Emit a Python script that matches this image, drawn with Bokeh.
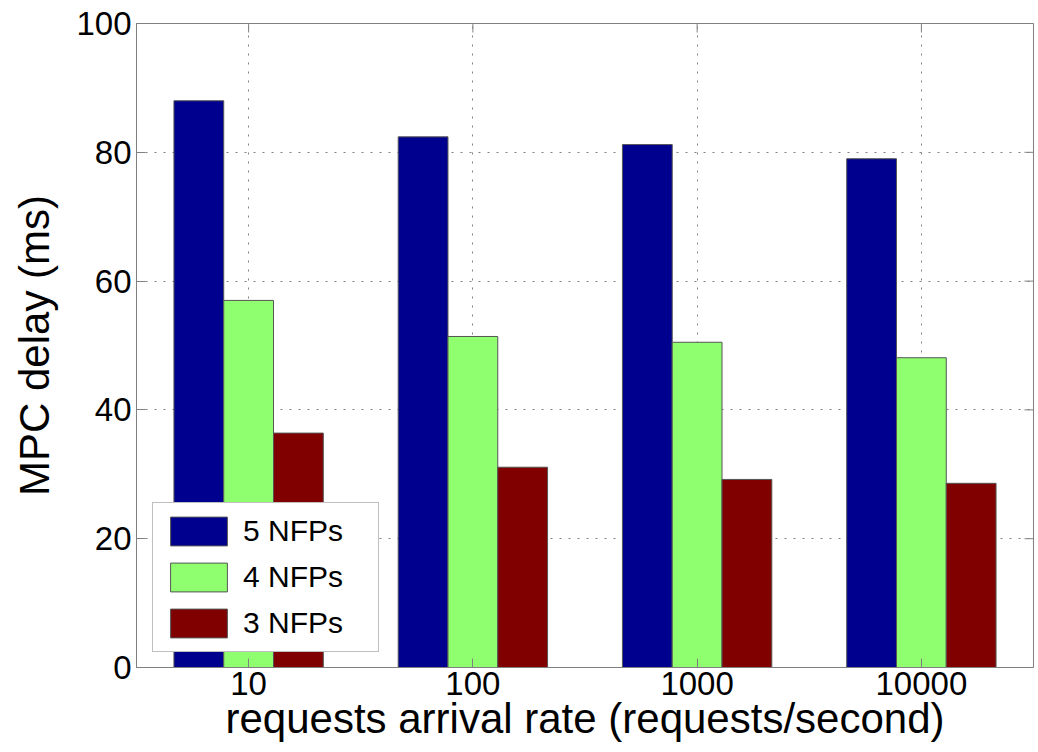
import math
from bokeh.plotting import figure
from bokeh.models import ColumnDataSource, FactorRange, Range1d, FixedTicker
from bokeh.transform import dodge
from bokeh.embed import file_html
from bokeh.resources import INLINE

rates = ["10", "100", "1000", "10000"]
nfp5 = [88.0, 82.4, 81.2, 79.0]
nfp4 = [57.0, 51.4, 50.5, 48.1]
nfp3 = [36.4, 31.1, 29.2, 28.6]
series_names = ["5 NFPs", "4 NFPs", "3 NFPs"]
series_colors = ["#00008F", "#8FFF70", "#800000"]
y_ticks = [0, 20, 40, 60, 80, 100]

FONT = "Liberation Sans"
AX = "#808080"

src = ColumnDataSource(dict(rate=rates, nfp5=nfp5, nfp4=nfp4, nfp3=nfp3))

p = figure(width=1038, height=752, output_backend="svg", toolbar_location=None,
           x_range=FactorRange(*rates, range_padding=0), y_range=Range1d(0, 100),
           min_border_left=136, min_border_top=23, min_border_right=5,
           min_border_bottom=85)

bw = 0.222
for col, off, name, color in zip(["nfp5", "nfp4", "nfp3"], [-bw, 0.0, bw],
                                 series_names, series_colors):
    p.vbar(x=dodge("rate", off, range=p.x_range), top=col, width=bw, bottom=0,
           source=src, fill_color=color, line_color="#555555", line_width=1,
           legend_label=name)

# axes
p.yaxis.ticker = FixedTicker(ticks=y_ticks)
for ax in (p.xaxis[0], p.yaxis[0]):
    ax.major_tick_in = 9
    ax.major_tick_out = 0
    ax.minor_tick_line_color = None
    ax.major_tick_line_color = AX
    ax.axis_line_color = AX
    ax.major_label_text_font = FONT
    ax.major_label_text_font_size = "33px"
    ax.major_label_text_color = "black"
    ax.axis_label_text_font = FONT
    ax.axis_label_text_font_size = "42px"
    ax.axis_label_text_font_style = "normal"
    ax.axis_label_text_color = "black"

p.xaxis.axis_label = "requests arrival rate (requests/second)"
p.xaxis.major_label_standoff = 4
p.xaxis.axis_label_standoff = -3
p.yaxis.axis_label = "MPC delay (ms)"
p.yaxis.major_label_standoff = 5
p.yaxis.axis_label_standoff = 15

# box ticks on the top and right edges (inward, like the bottom/left ones)
rt = ColumnDataSource(dict(xr=[rates[-1]] * len(y_ticks), y=y_ticks))
p.ray(x=dodge("xr", 0.5, range=p.x_range), y="y", source=rt, length=9,
      length_units="screen", angle=math.pi, line_color=AX, line_width=1)
tp = ColumnDataSource(dict(x=rates, yt=[y_ticks[-1]] * len(rates)))
p.ray(x="x", y="yt", source=tp, length=9, length_units="screen",
      angle=-math.pi / 2, line_color=AX, line_width=1)

p.outline_line_color = AX
p.outline_line_width = 1

for g in (p.xgrid[0], p.ygrid[0]):
    g.grid_line_color = "#808080"
    g.grid_line_dash = "2 7"
    g.grid_line_width = 1

# legend
lg = p.legend[0]
lg.location = (16, 15)
lg.glyph_width = 71
lg.glyph_height = 36
lg.label_standoff = 9
lg.label_width = 125
lg.label_height = 36
lg.spacing = 10
lg.padding = 10
lg.margin = 0
lg.label_text_font = FONT
lg.label_text_font_size = "30px"
lg.label_text_color = "black"
lg.border_line_color = AX
lg.border_line_width = 1
lg.background_fill_color = "white"
lg.background_fill_alpha = 1.0

p.background_fill_color = "white"
p.border_fill_color = "white"

open("out.html", "w").write(file_html(p, INLINE))
